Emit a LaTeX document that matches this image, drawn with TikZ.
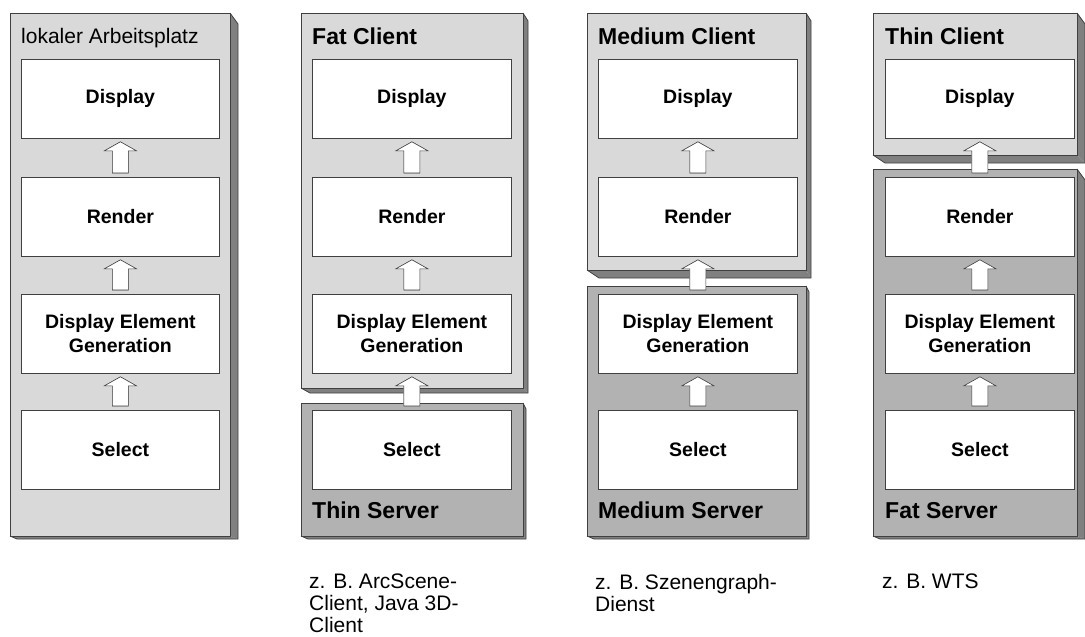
\documentclass[tikz,border=0pt]{standalone}
\usepackage{fontspec}
\setmainfont{Liberation Sans}
\usetikzlibrary{calc}

\definecolor{facelight}{HTML}{D9D9D9}
\definecolor{facedark}{HTML}{B2B2B2}
\definecolor{sidegray}{HTML}{808080}
\definecolor{edgegray}{HTML}{404040}
\definecolor{arrowside}{HTML}{A6A6A6}

\tikzset{
  stage/.style={draw=edgegray, fill=white, line width=0.8pt,
    minimum width=#1, minimum height=79pt, inner sep=0pt,
    anchor=north west, align=center,
    font=\bfseries\fontsize{19.5}{24}\selectfont},
  stage/.default=198pt,
  tiertitle/.style={anchor=base west, inner sep=0pt,
    font=\bfseries\fontsize{23}{27}\selectfont},
  plaintitle/.style={anchor=base west, inner sep=0pt,
    font=\fontsize{21}{25}\selectfont},
  caption/.style={anchor=north west, inner sep=0pt, align=left,
    font=\fontsize{21}{22}\selectfont},
}

% 3D slab: #1 x0, #2 y0, #3 x1, #4 y1, #5 front colour, #6 bottom depth, #7 side depth
\newcommand\tierbox[7]{%
  \fill[sidegray] (#3,#2) -- (#3+#7,#2+#7+3) -- (#3+#7,#4+#6) -- (#3,#4) -- cycle;
  \fill[sidegray] (#1,#4) -- (#1+#6+4,#4+#6) -- (#3+#7,#4+#6) -- (#3,#4) -- cycle;
  \draw[edgegray, line width=0.8pt] (#3,#2) -- (#3+#7,#2+#7+3) -- (#3+#7,#4+#6)
    -- (#1+#6+4,#4+#6) -- (#1,#4);
  \filldraw[fill=#5, draw=edgegray, line width=0.8pt] (#1,#2) rectangle (#3,#4);
}

% hollow block arrow from the lower stage #1 up to the upper stage #2
\newcommand\liftarrow[2]{%
  \foreach \s in {1,...,5}
    \fill[arrowside, shift={(0.7*\s,0.9*\s)}]
      let \p1=(#2.south), \p2=(#1.north) in
      (\x1,\y1-3pt) -- (\x1+16pt,\y1-12pt) -- (\x1+8pt,\y1-12pt)
      -- (\x1+8pt,\y2+4pt) -- (\x1-8pt,\y2+4pt) -- (\x1-8pt,\y1-12pt)
      -- (\x1-16pt,\y1-12pt) -- cycle;
  \draw[edgegray, fill=white, line width=0.6pt]
      let \p1=(#2.south), \p2=(#1.north) in
      (\x1,\y1-3pt) -- (\x1+16pt,\y1-12pt) -- (\x1+8pt,\y1-12pt)
      -- (\x1+8pt,\y2+4pt) -- (\x1-8pt,\y2+4pt) -- (\x1-8pt,\y1-12pt)
      -- (\x1-16pt,\y1-12pt) -- cycle;
}

\begin{document}
\begin{tikzpicture}[x=1pt,y=-1pt]
\useasboundingbox[fill=white] (0,0) rectangle (1085,637);

% ---- slabs ----
\tierbox{10}{13}{230}{536}{facelight}{3}{8}
\tierbox{301}{13}{523}{388}{facelight}{5}{5}
\tierbox{301}{403}{523}{536}{facedark}{3}{3}
\tierbox{587}{13}{806}{270}{facelight}{8}{5}
\tierbox{587}{286}{806}{536}{facedark}{3}{3}
\tierbox{873}{13}{1077}{155}{facelight}{8}{8}
\tierbox{873}{169}{1077}{536}{facedark}{3}{8}

% ---- titles ----
\node[plaintitle] (t1) at (21,43) {lokaler Arbeitsplatz};
\node[tiertitle] (t2) at (312,45) {Fat Client};
\node[tiertitle] (t3) at (598,45) {Medium Client};
\node[tiertitle] (t4) at (885,45) {Thin Client};
\node[tiertitle] (v2) at (312,518) {Thin Server};
\node[tiertitle] (v3) at (598,518) {Medium Server};
\node[tiertitle] (v4) at (885,518) {Fat Server};

% ---- pipeline stages ----
\foreach \k/\x/\w in {1/21/198pt, 2/312/199pt, 3/598/199pt, 4/885/189pt} {
  \node[stage=\w] (d\k) at (\x,59)  {Display};
  \node[stage=\w] (r\k) at (\x,177) {Render};
  \node[stage=\w] (g\k) at (\x,294) {Display Element\\Generation};
  \node[stage=\w] (s\k) at (\x,410) {Select};
}

% ---- data flow ----
\foreach \k in {1,...,4} {
  \liftarrow{r\k}{d\k}
  \liftarrow{g\k}{r\k}
  \liftarrow{s\k}{g\k}
}

% ---- examples ----
\node[caption] (c2) at (309,574) {z. B. ArcScene-\\Client, Java 3D-\\Client};
\node[caption] (c3) at (595,574) {z. B. Szenengraph-\\Dienst};
\node[caption] (c4) at (882,574) {z. B. WTS};
\end{tikzpicture}
\end{document}
